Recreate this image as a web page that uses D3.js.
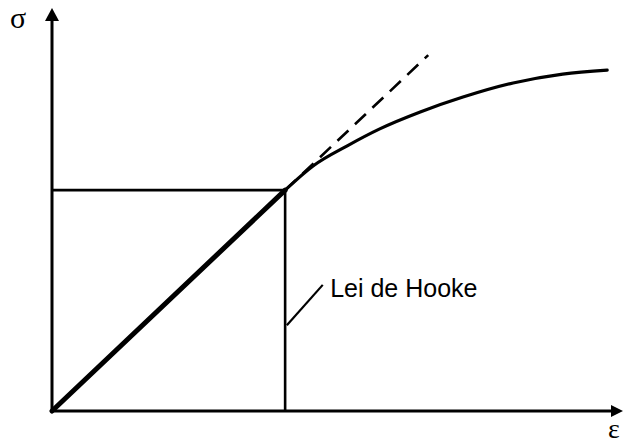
<!DOCTYPE html>
<html>
<head>
<meta charset="utf-8">
<script src="https://cdn.jsdelivr.net/npm/d3@7"></script>
<style>
  body { margin: 0; background: #fff; }
  svg { display: block; }
  .label { font-family: "Liberation Sans", Arial, sans-serif; font-size: 25px; }
  .sym { font-family: "Liberation Serif", "Times New Roman", serif; font-size: 30px; }
</style>
</head>
<body>
<div id="chart"></div>
<script>
const width = 624, height = 444;
const margin = ({top: 8, right: 2, bottom: 33, left: 52});

// proportional limit (end of the linear part)
const limit = [4.09, 5.48];
// extension of the linear part (dashed)
const dashedEnd = [6.60, 8.83];
// stress-strain curve beyond the limit
const curve = [
  [4.09, 5.48], [4.58, 6.08], [5.18, 6.58], [5.75, 7.00], [6.46, 7.42],
  [7.21, 7.79], [8.09, 8.14], [8.96, 8.36], [9.74, 8.46]
];
// leader line of the annotation
const leader = [[4.12, 2.13], [4.75, 3.13]];
const labelPos = [4.88, 2.83];
const labelText = "Lei de Hooke";
const yLabel = "σ", xLabel = "ε";

let x = d3.scaleLinear().domain([0, 10]).range([margin.left, width - margin.right]);
let y = d3.scaleLinear().domain([0, 10]).range([height - margin.bottom, margin.top]);

let line = d3.line().x(d => x(d[0])).y(d => y(d[1]));

let svg = d3.select("#chart").append("svg").attr("width", width).attr("height", height);

// axes
svg.append("path")
  .attr("d", line([[0, 0], [0, 9.75]]))
  .attr("stroke", "#000").attr("stroke-width", 3).attr("fill", "none");
svg.append("path")
  .attr("d", line([[0, 0], [9.85, 0]]))
  .attr("stroke", "#000").attr("stroke-width", 3).attr("fill", "none");

// arrow heads
let ty = [x(0), y(10)];
svg.append("path")
  .attr("d", `M${ty[0]},${ty[1]} L${ty[0] + 7},${ty[1] + 13} L${ty[0] - 7},${ty[1] + 13} Z`)
  .attr("fill", "#000");
let tx = [x(10), y(0)];
svg.append("path")
  .attr("d", `M${tx[0] + 1},${tx[1]} L${tx[0] - 11},${tx[1] - 6} L${tx[0] - 11},${tx[1] + 6} Z`)
  .attr("fill", "#000");

// guide lines to the proportional limit
svg.append("path")
  .attr("d", line([[0, limit[1]], limit, [limit[0], 0]]))
  .attr("stroke", "#000").attr("stroke-width", 2.6).attr("fill", "none");

// dashed extension
svg.append("path")
  .attr("d", line([limit, dashedEnd]))
  .attr("stroke", "#000").attr("stroke-width", 2.6).attr("fill", "none")
  .attr("stroke-dasharray", "15,9");

// linear part
svg.append("path")
  .attr("d", line([[0, 0], limit]))
  .attr("stroke", "#000").attr("stroke-width", 5).attr("fill", "none")
  .attr("stroke-linecap", "round");

// curve
svg.append("path")
  .attr("d", line.curve(d3.curveMonotoneX)(curve))
  .attr("stroke", "#000").attr("stroke-width", 3.2).attr("fill", "none")
  .attr("stroke-linecap", "round");
line.curve(d3.curveLinear);

// annotation
svg.append("path")
  .attr("d", line(leader))
  .attr("stroke", "#000").attr("stroke-width", 2.2).attr("fill", "none");
svg.append("text")
  .attr("class", "label")
  .attr("x", x(labelPos[0]))
  .attr("y", y(labelPos[1]))
  .text(labelText);

// axis symbols
svg.append("text")
  .attr("class", "sym")
  .attr("x", 10).attr("y", 28)
  .text(yLabel);
svg.append("text")
  .attr("class", "sym")
  .attr("x", 608).attr("y", 438)
  .style("font-size", "28px")
  .text(xLabel);
</script>
</body>
</html>
